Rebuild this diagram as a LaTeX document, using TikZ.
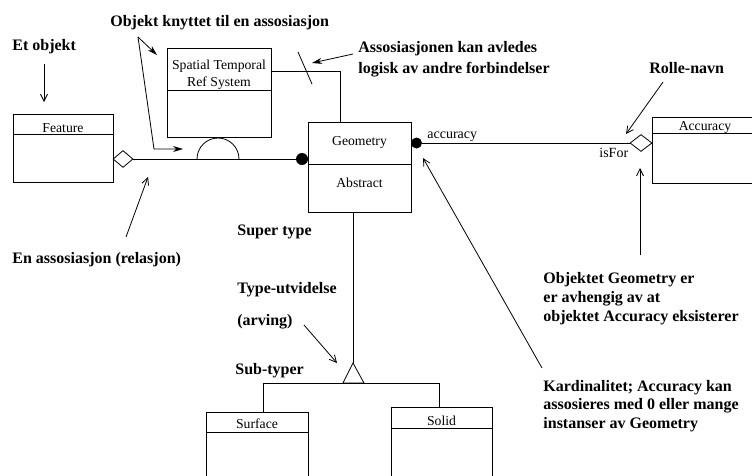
\documentclass[tikz,border=0pt]{standalone}
\usepackage{fontspec}
\setmainfont{Liberation Serif}
\usetikzlibrary{arrows.meta,shapes.geometric}
\begin{document}
\begin{tikzpicture}[x=1pt,y=-1pt,
  line width=0.8pt,
  ann/.style={font=\fontsize{16}{19}\selectfont\bfseries, anchor=base west, inner sep=0pt},
  lbl/.style={font=\fontsize{13.7}{16}\selectfont, anchor=base, inner sep=0pt},
  rolelbl/.style={font=\fontsize{14}{16}\selectfont, anchor=base west, inner sep=0pt},
  classbox/.style={draw, rectangle, inner sep=0pt},
  joindot/.style={circle, fill, inner sep=0pt},
  aggdia/.style={diamond, draw, fill=white, inner sep=0pt},
  solidtip/.style={-{Stealth[length=10pt,width=6pt]}},
  opentip/.style={-{Straight Barb[length=7pt,width=7pt]}},
]
\useasboundingbox (0,0) rectangle (752,475);
\clip (0,0) rectangle (752,475);

% ---- class boxes ----
\node[classbox, minimum width=100pt, minimum height=68pt] (feat) at (63,148) {};
\draw ([yshift=-21pt]feat.north west) -- ([yshift=-21pt]feat.north east);
\node[lbl] (featlbl) at (63,132) {Feature};

\node[classbox, minimum width=104pt, minimum height=89pt] (sts) at (219,92.5) {};
\draw ([yshift=-43pt]sts.north west) -- ([yshift=-43pt]sts.north east);
\node[lbl] (stslbla) at (219,69) {Spatial Temporal};
\node[lbl] (stslblb) at (219,86) {Ref System};

\node[classbox, minimum width=103pt, minimum height=90pt] (geo) at (359.5,167) {};
\draw ([yshift=-43pt]geo.north west) -- ([yshift=-43pt]geo.north east);
\node[lbl] (geolbl) at (359.5,145) {Geometry};
\node[lbl] (abslbl) at (359.5,187) {Abstract};

\node[classbox, minimum width=148pt, minimum height=66pt] (acc) at (726,150) {};
\draw ([yshift=-17pt]acc.north west) -- ([yshift=-17pt]acc.north east);
\node[lbl] (acclbl) at (705,130) {Accuracy};

\node[classbox, minimum width=102pt, minimum height=108pt] (surf) at (257,466) {};
\draw ([yshift=-21pt]surf.north west) -- ([yshift=-21pt]surf.north east);
\node[lbl] (surflbl) at (257,428) {Surface};

\node[classbox, minimum width=101pt, minimum height=113pt] (sol) at (441.5,463.5) {};
\draw ([yshift=-22pt]sol.north west) -- ([yshift=-22pt]sol.north east);
\node[lbl] (sollbl) at (441.5,425) {Solid};

% ---- association Feature -- Geometry ----
\node[aggdia, minimum width=20pt, minimum height=17pt] (featdia) at (123,159) {};
\node[joindot, minimum size=12pt] (geodot) at (302,159) {};
\draw (featdia.east) -- (geodot.west);
\coordinate (arcL) at (197,159);
\draw (arcL) arc[start angle=180, end angle=360, radius=21];

% ---- derived link Spatial Temporal Ref System -- Geometry ----
\coordinate (bend) at (340,71);
\draw (sts.east |- bend) -| (geo.north -| bend);
\coordinate (slashA) at (298,52);
\coordinate (slashB) at (312,84);
\draw (slashA) -- (slashB);

% ---- association Geometry -- Accuracy ----
\node[joindot, minimum size=11pt] (accdot) at (416.5,143) {};
\node[aggdia, minimum width=22pt, minimum height=17pt] (accdia) at (641,143) {};
\draw (accdot.east) -- (accdia.west);
\node[rolelbl] (rolea) at (427,138) {accuracy};
\node[rolelbl] (roleb) at (599,157) {isFor};

% ---- generalisation ----
\coordinate (genapex) at (353,363);
\coordinate (genbar) at (353,383);
\coordinate (barleft) at (263,383);
\draw (geo.south -| genapex) -- (genapex);
\draw (genapex) -- (343,383) -- (364,383) -- cycle;
\draw (surf.north -| barleft) -- (barleft) -| (sol.north -| 439,0);

% ---- annotations ----
\node[ann] (tEt) at (12,50) {Et objekt};
\node[ann] (tObj) at (110,26) {Objekt knyttet til en assosiasjon};
\node[ann] (tAssA) at (358,52) {Assosiasjonen kan avledes};
\node[ann] (tAssB) at (358,73) {logisk av andre forbindelser};
\node[ann] (tRolle) at (649,73) {Rolle-navn};
\node[ann] (tEn) at (12,263) {En assosiasjon (relasjon)};
\node[ann] (tSuper) at (237,235) {Super type};
\node[ann] (tType) at (237,293) {Type-utvidelse};
\node[ann] (tArv) at (237,325) {(arving)};
\node[ann] (tSub) at (235,374) {Sub-typer};
\node[ann] (tDepA) at (543,283) {Objektet Geometry er};
\node[ann] (tDepB) at (543,302) {er avhengig av at};
\node[ann] (tDepC) at (543,321) {objektet Accuracy eksisterer};
\node[ann] (tKarA) at (543,391) {Kardinalitet; Accuracy kan};
\node[ann] (tKarB) at (543,409) {assosieres med 0 eller mange};
\node[ann] (tKarC) at (543,428) {instanser av Geometry};

% ---- annotation arrows ----
\coordinate (etFrom) at (44,64);    \coordinate (etTo) at (44,102);
\draw[opentip] (etFrom) -- (etTo);

\coordinate (objFrom) at (138,37);
\coordinate (objToA) at (157,55);
\coordinate (objBend) at (154,149);
\coordinate (objToB) at (183,149);
\draw[solidtip] (objFrom) -- (objToA);
\draw[solidtip] (objFrom) -- (objBend) -- (objToB);

\coordinate (assFrom) at (353,54);
\draw[solidtip] (assFrom) -- (slashB |- 0,63) ;

\coordinate (rolFrom) at (663,82);  \coordinate (rolTo) at (626,134);
\draw[opentip] (rolFrom) -- (rolTo);

\coordinate (depFrom) at (640,255); \coordinate (depTo) at (640,168);
\draw[opentip] (depFrom) -- (depTo);

\coordinate (karFrom) at (542,368); \coordinate (karTo) at (423,158);
\draw[opentip] (karFrom) -- (karTo);

\coordinate (enFrom) at (126,237);  \coordinate (enTo) at (148,177);
\draw[opentip] (enFrom) -- (enTo);

\coordinate (arvFrom) at (304,325); \coordinate (arvTo) at (337,363);
\draw[opentip] (arvFrom) -- (arvTo);
\end{tikzpicture}
\end{document}
